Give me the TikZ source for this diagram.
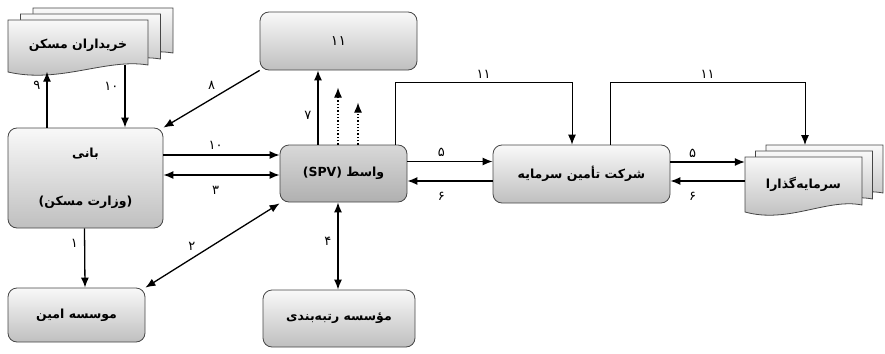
\documentclass[tikz,border=0pt]{standalone}
\usepackage{fontspec}
\newfontfamily\arabicfont[Script=Arabic]{DejaVu Sans}
\TeXXeTstate=1
\usetikzlibrary{arrows.meta}

% one page of a document stack, top left corner (#1,#2), width #3, height #4
\newcommand{\docpage}[4]{%
  \path[docbox] (#1,#2) -- ({#1+#3},#2) -- ({#1+#3},{#2+#4-10})
    .. controls ({#1+0.7*#3},{#2+#4-17}) and ({#1+0.37*#3},{#2+#4+9}) .. (#1,{#2+#4-3}) -- cycle;}

\begin{document}
\begin{tikzpicture}[x=1pt,y=-1pt,
    box/.style={rectangle, rounded corners=9pt, draw=gray!55!black, line width=0.8pt,
      top color=gray!5, bottom color=gray!50, font=\arabicfont\bfseries\fontsize{12.5}{14}\selectfont},
    darkbox/.style={box, top color=gray!30, bottom color=gray!62},
    docbox/.style={draw=gray!55!black, line width=0.8pt, top color=gray!5, bottom color=gray!55},
    doctext/.style={inner sep=0pt, font=\arabicfont\bfseries\fontsize{12.5}{14}\selectfont},
    arr/.style={-{Latex[length=10pt,width=8pt]}, line width=1.3pt},
    darr/.style={{Latex[length=10pt,width=8pt]}-{Latex[length=10pt,width=8pt]}, line width=1.3pt},
    dotarr/.style={arr, dotted, line width=1.1pt},
    railarr/.style={arr, line width=1pt},
    lab/.style={font=\arabicfont\fontsize{13}{14}\selectfont, inner sep=1pt}]
\useasboundingbox (0,0) rectangle (885,353);

% stacks of documents
\docpage{33}{8}{140}{55}
\docpage{20.5}{14}{140}{55}
\docpage{8}{20}{140}{55}
\docpage{766}{145}{117}{58}
\docpage{755.5}{151}{117}{58}
\docpage{745}{157}{117}{58}

\node[doctext, minimum width=140pt, minimum height=55pt] (buy) at (78,45) {\beginR خریداران مسکن\endR};
\node[doctext, minimum width=117pt, minimum height=58pt] (inv) at (803.5,184) {\beginR سرمایه‌گذارا\endR};
\coordinate (invtop) at (805,145);

% boxes
\node[box, minimum width=155pt, minimum height=100pt, align=center] (bani) at (85.5,178)
  {\beginR بانی\endR\\[34pt]\beginR(وزارت مسکن)\endR};
\node[box, minimum width=137pt, minimum height=54pt] (amin) at (76.5,315) {\beginR موسسه امین\endR};
\node[box, minimum width=157pt, minimum height=58pt, font=\arabicfont\fontsize{14}{16}\selectfont] (yazdah) at (338.5,41) {۱۱};
\node[darkbox, minimum width=127pt, minimum height=57pt] (spv) at (343.5,173.5) {\beginR واسط (\beginL SPV\endL)\endR};
\node[box, minimum width=152pt, minimum height=57pt] (rate) at (339,318.5) {\beginR مؤسسه رتبه‌بندی\endR};
\node[box, minimum width=177pt, minimum height=58pt] (tamin) at (581.5,174) {\beginR شرکت تأمین سرمایه\endR};

% connectors
\draw[arr] ([xshift=-38.5pt]bani.north) -- ([xshift=-31pt,yshift=1pt]buy.south) node[lab, pos=0.75, left=5pt] {۹};
\draw[arr] ([xshift=47pt,yshift=8pt]buy.south) -- ([xshift=39.5pt]bani.north) node[lab, pos=0.35, left=5pt] {۱۰};
\draw[arr] (yazdah.south west) -- (bani.north east) node[lab, pos=0.5, above=8pt] {۸};
\draw[arr] ([yshift=23pt]bani.east) -- ([yshift=23pt]bani.east -| spv.west) node[lab, pos=0.45, above=4pt] {۱۰};
\draw[darr] ([yshift=3pt]bani.east) -- ([yshift=3pt]bani.east -| spv.west) node[lab, pos=0.45, below=10pt] {۳};
\draw[arr] ([xshift=-0.5pt]bani.south -| amin.north) ++(8.5,0) -- ([xshift=8.5pt]amin.north) node[lab, pos=0.25, left=5pt] {۱};
\draw[darr] (amin.north east) -- ([yshift=-1pt]spv.south west) node[lab, pos=0.4, above left=2pt] {۲};
\draw[darr] ([xshift=-5.5pt]spv.south) -- ([xshift=-5.5pt]spv.south |- rate.north) node[lab, pos=0.45, left=5pt] {۴};
\draw[arr] ([xshift=-25.5pt]spv.north) -- ([xshift=-25.5pt]spv.north |- yazdah.south) node[lab, pos=0.4, left=5pt] {۷};
\draw[dotarr] ([xshift=-5.5pt]spv.north) -- ++(0,-57);
\draw[dotarr] ([xshift=14.5pt]spv.north) -- ++(0,-42);
\draw[railarr] ([xshift=51.5pt]spv.north) -- ++(0,-62) -| ([xshift=-9.5pt]tamin.north) node[lab, pos=0.25, above=3pt] {۱۱};
\draw[railarr] ([xshift=28.5pt]tamin.north) -- ++(0,-62) -| (invtop) node[lab, pos=0.25, above=3pt] {۱۱};
\draw[arr] ([yshift=12pt]spv.east) -- ([yshift=12pt]spv.east -| tamin.west) node[lab, pos=0.4, above=3pt] {۵};
\draw[arr] ([yshift=-7pt]tamin.west) -- ([yshift=-7pt]tamin.west -| spv.east) node[lab, pos=0.6, below=10pt] {۶};
\draw[arr] ([yshift=12pt]tamin.east) -- ([yshift=12pt]tamin.east -| inv.west) node[lab, pos=0.3, above=3pt] {۵};
\draw[arr] ([yshift=-7pt]tamin.east -| inv.west) -- ([yshift=-7pt]tamin.east) node[lab, pos=0.7, below=10pt] {۶};
\end{tikzpicture}
\end{document}
